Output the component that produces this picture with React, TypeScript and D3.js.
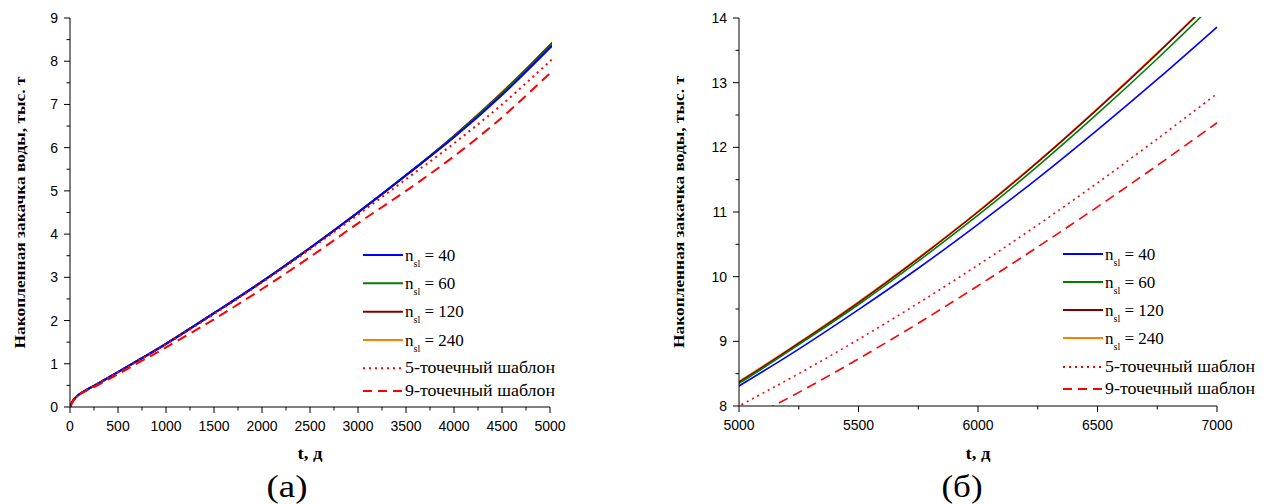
import React from 'react';
import * as d3 from 'd3';

// ---- data (t, days; cumulative injection, thousand t) ----
const T = [0, 25, 50, 100, 200, 300, 500, 750, 1000, 1500, 2000, 2500, 3000, 3500, 4000, 4500, 5000, 5250, 5500, 5750, 6000, 6250, 6500, 6750, 7000];
const nsl40 = [0, 0.12, 0.2, 0.3, 0.43, 0.55, 0.81, 1.13, 1.46, 2.17, 2.9, 3.68, 4.5, 5.36, 6.24, 7.22, 8.31, 8.88, 9.49, 10.13, 10.81, 11.52, 12.27, 13.05, 13.86];
const nsl60 = [0, 0.12, 0.2, 0.3, 0.43, 0.55, 0.81, 1.13, 1.46, 2.17, 2.9, 3.68, 4.5, 5.36, 6.26, 7.26, 8.35, 8.95, 9.57, 10.24, 10.95, 11.71, 12.52, 13.37, 14.26];
const nsl120 = [0, 0.12, 0.2, 0.3, 0.43, 0.55, 0.81, 1.13, 1.46, 2.17, 2.9, 3.68, 4.5, 5.36, 6.27, 7.27, 8.37, 8.97, 9.6, 10.28, 11.0, 11.77, 12.59, 13.45, 14.35];
const nsl240 = [0, 0.12, 0.2, 0.3, 0.43, 0.55, 0.81, 1.13, 1.46, 2.17, 2.9, 3.68, 4.5, 5.36, 6.27, 7.28, 8.38, 8.98, 9.61, 10.29, 11.01, 11.78, 12.6, 13.46, 14.36];
const pt5 = [0, 0.12, 0.2, 0.3, 0.43, 0.55, 0.8, 1.12, 1.45, 2.15, 2.88, 3.65, 4.45, 5.27, 6.1, 7.0, 8.0, 8.5, 9.03, 9.59, 10.18, 10.8, 11.45, 12.13, 12.83];
const pt9 = [0, 0.11, 0.19, 0.29, 0.41, 0.52, 0.76, 1.07, 1.38, 2.03, 2.73, 3.47, 4.25, 5.0, 5.8, 6.7, 7.72, 8.21, 8.73, 9.28, 9.86, 10.46, 11.08, 11.72, 12.38];

const leftXTicks = [0, 500, 1000, 1500, 2000, 2500, 3000, 3500, 4000, 4500, 5000];
const leftYTicks = [0, 1, 2, 3, 4, 5, 6, 7, 8, 9];
const rightXTicks = [5000, 5500, 6000, 6500, 7000];
const rightYTicks = [8, 9, 10, 11, 12, 13, 14];

const legendNs = ['40', '60', '120', '240'];
const legendTexts = ['5-точечный шаблон', '9-точечный шаблон'];
const yTitle = 'Накопленная закачка воды, тыс. т';
const xTitle = 't, д';
const panelLabels = ['(а)', '(б)'];

type Series = { key: string; values: number[]; color: string; dash?: string };
const drawSeries: Series[] = [
  { key: 'n240', values: nsl240, color: '#ff8000' },
  { key: 'n120', values: nsl120, color: '#800000' },
  { key: 'n60', values: nsl60, color: '#008000' },
  { key: 'n40', values: nsl40, color: '#0000ff' },
  { key: 'p5', values: pt5, color: '#ff0000', dash: '2 4' },
  { key: 'p9', values: pt9, color: '#ff0000', dash: '10 6' },
];
const legendSeries = [
  { color: '#0000ff' }, { color: '#008000' }, { color: '#800000' }, { color: '#ff8000' },
  { color: '#ff0000', dash: '2 4' }, { color: '#ff0000', dash: '9 6' },
];

const SERIF = { fontFamily: "'Liberation Serif', 'Times New Roman', 'DejaVu Serif', serif" };
const SANS = { fontFamily: "'Liberation Sans', Arial, sans-serif" };

type PanelProps = {
  id: string;
  xDomain: [number, number];
  yDomain: [number, number];
  x0: number; x1: number; y0: number; y1: number;
  xTicks: number[]; yTicks: number[];
  legendX: number; legendRows: number[];
  titleX: number; label: string; labelX: number;
  strokeW: number;
};

function Panel(p: PanelProps) {
  const x = d3.scaleLinear().domain(p.xDomain).range([p.x0, p.x1]);
  const y = d3.scaleLinear().domain(p.yDomain).range([p.y0, p.y1]);
  const line = d3.line<number>()
    .x((_, i) => x(T[i]))
    .y((v) => y(v))
    .curve(d3.curveCatmullRom.alpha(0.5));
  const xStep = p.xTicks[1] - p.xTicks[0];
  const yStep = p.yTicks[1] - p.yTicks[0];
  const xMinor = p.xTicks.slice(0, -1).map((t) => t + xStep / 2);
  const yMinor = p.yTicks.slice(0, -1).map((t) => t + yStep / 2);
  const cy = (p.y0 + p.y1) / 2;
  const cx = (p.x0 + p.x1) / 2;
  return (
    <g>
      <defs>
        <clipPath id={p.id}>
          <rect x={p.x0} y={p.y1 - 1} width={p.x1 - p.x0 + 2} height={p.y0 - p.y1 + 1} />
        </clipPath>
      </defs>
      <g clipPath={`url(#${p.id})`}>
        {drawSeries.map((s) => (
          <path key={s.key} d={line(s.values) || ''} fill="none" stroke={s.color}
            strokeWidth={p.strokeW} strokeDasharray={s.dash} />
        ))}
      </g>
      {/* axes */}
      <line x1={p.x0} x2={p.x1} y1={p.y0} y2={p.y0} stroke="#000" strokeWidth={1} />
      <line x1={p.x0} x2={p.x0} y1={p.y0} y2={p.y1} stroke="#000" strokeWidth={1} />
      {p.xTicks.map((t) => (
        <g key={'xt' + t}>
          <line x1={x(t)} x2={x(t)} y1={p.y0} y2={p.y0 + 6} stroke="#000" />
          <text x={x(t)} y={p.y0 + 24} textAnchor="middle" style={SANS} fontSize={14}>{t}</text>
        </g>
      ))}
      {xMinor.map((t) => (
        <line key={'xm' + t} x1={x(t)} x2={x(t)} y1={p.y0} y2={p.y0 + 3.5} stroke="#000" />
      ))}
      {p.yTicks.map((t) => (
        <g key={'yt' + t}>
          <line x1={p.x0 - 6} x2={p.x0} y1={y(t)} y2={y(t)} stroke="#000" />
          <text x={p.x0 - 12} y={y(t) + 5} textAnchor="end" style={SANS} fontSize={14}>{t}</text>
        </g>
      ))}
      {yMinor.map((t) => (
        <line key={'ym' + t} x1={p.x0 - 3.5} x2={p.x0} y1={y(t)} y2={y(t)} stroke="#000" />
      ))}
      {/* titles */}
      <text transform={`translate(${p.titleX},${cy}) rotate(-90)`} textAnchor="middle"
        style={SERIF} fontWeight="bold" fontSize={15} textLength={272} lengthAdjust="spacingAndGlyphs">{yTitle}</text>
      <text x={cx} y={459} textAnchor="middle" style={SERIF} fontWeight="bold" fontSize={16}
        textLength={25} lengthAdjust="spacingAndGlyphs">{xTitle}</text>
      <text x={p.labelX} y={497} textAnchor="middle" style={SERIF} fontSize={31}
        textLength={41} lengthAdjust="spacingAndGlyphs">{p.label}</text>
      {/* legend */}
      {legendSeries.map((s, i) => (
        <g key={'lg' + i}>
          <line x1={p.legendX} x2={p.legendX + 40} y1={p.legendRows[i]} y2={p.legendRows[i]}
            stroke={s.color} strokeWidth={2} strokeDasharray={s.dash} />
          {i < 4 ? (
            <text x={p.legendX + 42} y={p.legendRows[i] + 5.5} style={SERIF} fontSize={17}>
              n<tspan fontSize={10} dy={6}>sl</tspan><tspan dy={-6}>{' = ' + legendNs[i]}</tspan>
            </text>
          ) : (
            <text x={p.legendX + 42} y={p.legendRows[i] + 5} style={SERIF} fontSize={16}
              textLength={150} lengthAdjust="spacingAndGlyphs">
              {legendTexts[i - 4]}
            </text>
          )}
        </g>
      ))}
    </g>
  );
}

export default function App() {
  return (
    <svg width={1267} height={504} style={{ position: 'absolute', left: 0, top: 0, background: '#fff' }}>
      <Panel id="clipA" xDomain={[0, 5000]} yDomain={[0, 9]} x0={70} x1={550} y0={407} y1={18}
        xTicks={leftXTicks} yTicks={leftYTicks} legendX={363} legendRows={[255, 283.3, 311.7, 340, 368.3, 391]}
        titleX={25} label={panelLabels[0]} labelX={287} strokeW={2} />
      <Panel id="clipB" xDomain={[5000, 7000]} yDomain={[8, 14]} x0={739} x1={1217} y0={406} y1={18}
        xTicks={rightXTicks} yTicks={rightYTicks} legendX={1063} legendRows={[254, 282, 310, 338, 367, 389]}
        titleX={684} label={panelLabels[1]} labelX={962} strokeW={1.6} />
    </svg>
  );
}
